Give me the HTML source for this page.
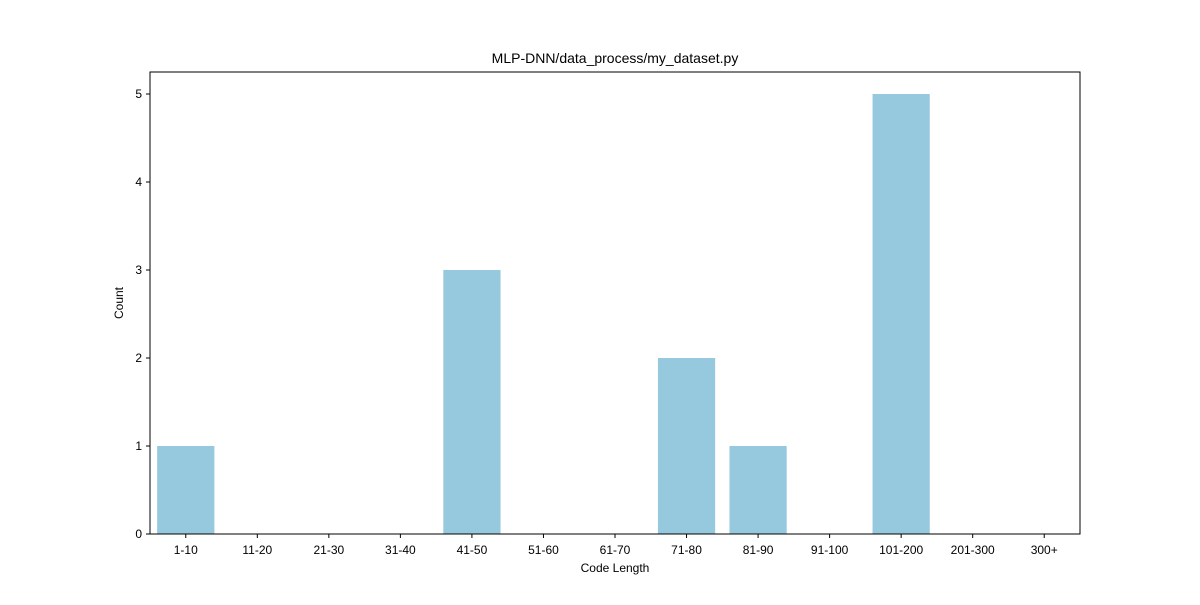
<!DOCTYPE html>
<html><head><meta charset="utf-8"><style>
html,body{margin:0;padding:0;background:#fff;}
svg text{font-family:"Liberation Sans",sans-serif;fill:#000;}
</style></head><body>
<svg id="chart" width="1200" height="600" xmlns="http://www.w3.org/2000/svg">
<rect width="1200" height="600" fill="#fff"/>
<text x="615" y="63" text-anchor="middle" font-size="14">MLP-DNN/data_process/my_dataset.py</text>
<g id="bars"></g>
<g id="axes"></g>
<text x="615" y="572" text-anchor="middle" font-size="12">Code Length</text>
<text transform="translate(123,303) rotate(-90)" text-anchor="middle" font-size="12">Count</text>
</svg>
<script>
const categories = ["1-10","11-20","21-30","31-40","41-50","51-60","61-70","71-80","81-90","91-100","101-200","201-300","300+"];
const counts = [1,0,0,0,3,0,0,2,1,0,5,0,0];
const yTicks = [0,1,2,3,4,5];

const L=150,R=1080,T=72,B=534,yMax=5.25;
const NS="http://www.w3.org/2000/svg";
const step=(R-L)/categories.length;
const xC=i=>L+step*(i+0.5);
const y=v=>B-(v/yMax)*(B-T);
const bars=document.getElementById('bars'), axes=document.getElementById('axes');
function mk(tag,attrs,parent){const e=document.createElementNS(NS,tag);for(const k in attrs)e.setAttribute(k,attrs[k]);parent.appendChild(e);return e;}

counts.forEach((v,i)=>{
  const r=mk('rect',{x:xC(i)-step*0.4,y:y(v),width:step*0.8,height:B-y(v),fill:'#96c9de'},bars);
  
  
});
const frame=mk('rect',{x:L,y:T,width:R-L,height:B-T,fill:'none',stroke:'#000','stroke-width':1},axes);


categories.forEach((c,i)=>{
  const x=xC(i);
  mk('line',{x1:x,x2:x,y1:B,y2:B+4,stroke:'#000'},axes);
  const t=mk('text',{x:x,y:B+20,'text-anchor':'middle','font-size':12},axes);
  t.textContent=c;
  
  
});
yTicks.forEach(v=>{
  const yy=y(v);
  mk('line',{x1:L-4,x2:L,y1:yy,y2:yy,stroke:'#000'},axes);
  const t=mk('text',{x:L-8,y:yy+4,'text-anchor':'end','font-size':12},axes);
  t.textContent=v;
  
  
});
</script>
</body></html>
